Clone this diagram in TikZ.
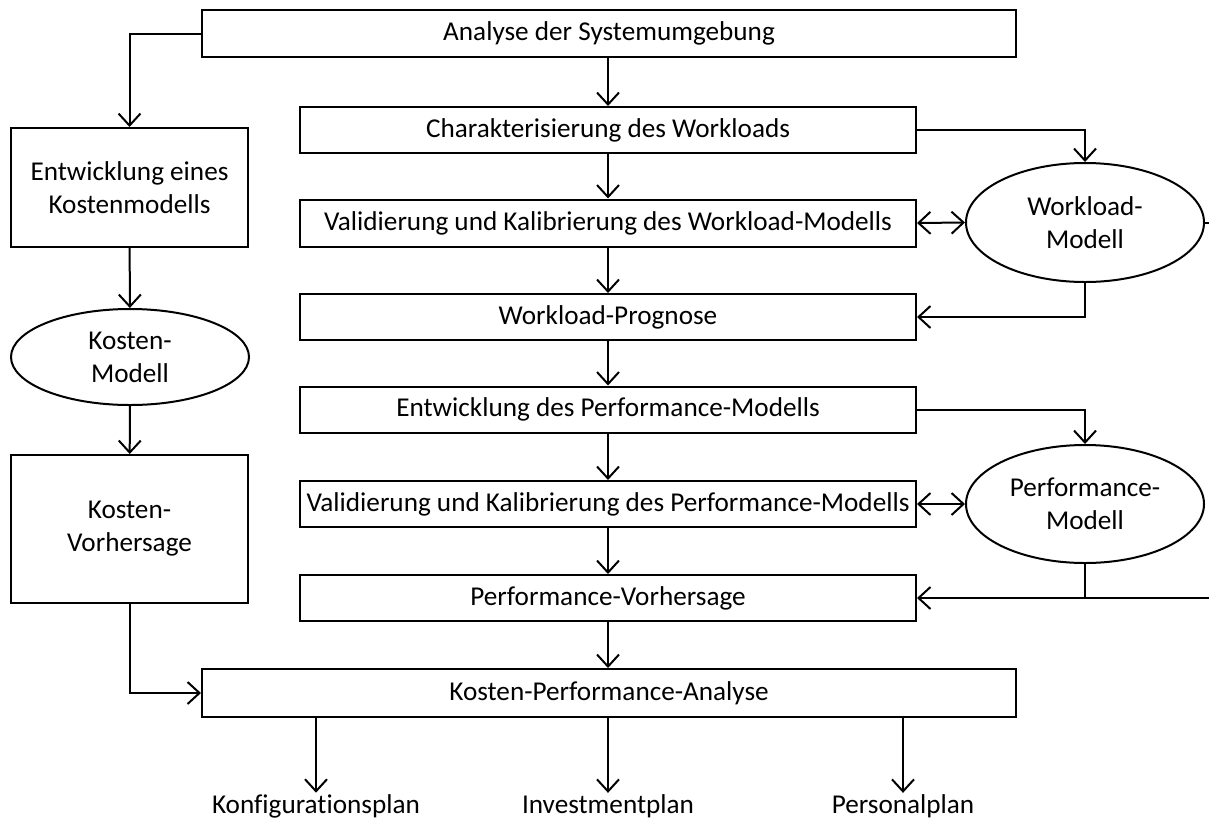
\documentclass[tikz,border=0pt]{standalone}
\usepackage{fontspec}
\setmainfont[Ligatures=NoCommon]{Carlito}
\usetikzlibrary{arrows.meta,shapes.geometric}
\begin{document}
\begin{tikzpicture}[x=1pt,y=-1pt,
  every node/.style={font=\fontsize{27.2}{33}\selectfont},
  stepbox/.style={draw,line width=2pt,rectangle,inner sep=0pt,align=center},
  modelbox/.style={draw,line width=2pt,ellipse,inner sep=0pt,align=center},
  conn/.style={line width=2pt,-{Straight Barb[length=12pt,width=22pt,line width=2pt]}},
  dconn/.style={line width=2pt,{Straight Barb[length=12pt,width=22pt,line width=2pt]}-{Straight Barb[length=12pt,width=22pt,line width=2pt]}},
  plain/.style={line width=2pt}]
\useasboundingbox (0,0) rectangle (1209,825);

% main column
\node[stepbox,minimum width=814,minimum height=47] (A) at (609,33.5) {Analyse der Systemumgebung};
\node[stepbox,minimum width=616,minimum height=46] (C) at (608,130) {Charakterisierung des Workloads};
\node[stepbox,minimum width=616,minimum height=47] (VW) at (608,223) {Validierung und Kalibrierung des Workload-Modells};
\node[stepbox,minimum width=616,minimum height=46] (WP) at (608,317) {Workload-Prognose};
\node[stepbox,minimum width=616,minimum height=46] (EP) at (608,409.5) {Entwicklung des Performance-Modells};
\node[stepbox,minimum width=616,minimum height=46] (VP) at (608,504) {Validierung und Kalibrierung des Performance-Modells};
\node[stepbox,minimum width=616,minimum height=46] (PV) at (608,598) {Performance-Vorhersage};
\node[stepbox,minimum width=814,minimum height=48] (KPA) at (609,693) {Kosten-Performance-Analyse};

% models on the right
\node[modelbox,minimum width=238,minimum height=119] (WM) at (1085,222.5) {Workload-\\Modell};
\node[modelbox,minimum width=238,minimum height=118] (PM) at (1085,504) {Performance-\\Modell};

% cost column
\node[stepbox,minimum width=237,minimum height=119] (E) at (129.5,187.5) {Entwicklung eines\\Kostenmodells};
\node[modelbox,minimum width=238,minimum height=96] (KM) at (130,357) {Kosten-\\Modell};
\node[stepbox,minimum width=237,minimum height=148] (KV) at (129.5,529) {Kosten-\\Vorhersage};

% results
\node (R1) at (316,806) {Konfigurationsplan};
\node (R2) at (608,806) {Investmentplan};
\node (R3) at (903,806) {Personalplan};

\coordinate (WMout) at (1209,222.5);
\coordinate (PMjoin) at (1085,598);
\coordinate (PMout) at (1209,598);

% vertical flow
\draw[conn] (C.north |- A.south) -- (C.north);
\draw[conn] (C) -- (VW);
\draw[conn] (VW) -- (WP);
\draw[conn] (WP) -- (EP);
\draw[conn] (EP) -- (VP);
\draw[conn] (VP) -- (PV);
\draw[conn] (PV.south) -- (PV.south |- KPA.north);

% workload model
\draw[conn] (C.east) -| (WM.north);
\draw[dconn] (VW.east) -- (WM.west);
\draw[conn] (WM.south) |- (WP.east);
\draw[plain] (WM.east) -- (WMout);

% performance model
\draw[conn] (EP.east) -| (PM.north);
\draw[dconn] (VP.east) -- (PM.west);
\draw[plain] (PM.south) -- (PMjoin);
\draw[conn] (PMout) -- (PV.east);

% cost branch
\draw[conn] (A.west) -| (E.north);
\draw[conn] (E) -- (KM);
\draw[conn] (KM) -- (KV);
\draw[conn] (KV.south) |- (KPA.west);

% outputs
\draw[conn] (R1 |- KPA.south) -- ([yshift=-2pt]R1.north);
\draw[conn] (R2 |- KPA.south) -- ([yshift=-2pt]R2.north);
\draw[conn] (R3 |- KPA.south) -- ([yshift=-2pt]R3.north);
\end{tikzpicture}
\end{document}
